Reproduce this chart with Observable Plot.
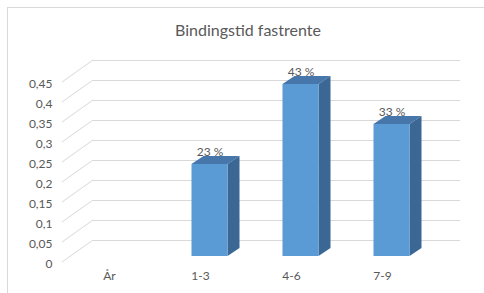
<!DOCTYPE html>
<html>
<head>
<meta charset="utf-8">
<script src="https://cdn.jsdelivr.net/npm/d3@7"></script>
<script src="https://cdn.jsdelivr.net/npm/@observablehq/plot@0.6"></script>
<style>
  body { margin: 0; background: #fff; }
  #wrap { position: relative; width: 484px; height: 293px; overflow: hidden; background: #fff; }
  #frame { position: absolute; left: 7px; top: 7px; width: 500px; height: 320px; border: 1px solid #d9d9d9; box-sizing: border-box; }
  #title { position: absolute; left: 12px; width: 472px; top: 20px; text-align: center; font-family: Lato, "Open Sans", sans-serif; font-size: 16px; color: #595959; line-height: 20px; }
  #chart { position: absolute; left: 0; top: 0; }
</style>
</head>
<body>
<div id="wrap">
  <div id="frame"></div>
  <div id="chart"></div>
  <div id="title">Bindingstid fastrente</div>
</div>
<script>
// ---- data ----
const categories = ["År", "1-3", "4-6", "7-9"];
const values = [null, 0.23, 0.43, 0.33];
const yTicks = [0, 0.05, 0.1, 0.15, 0.2, 0.25, 0.3, 0.35, 0.4, 0.45];
const yTickLabels = ["0", "0,05", "0,1", "0,15", "0,2", "0,25", "0,3", "0,35", "0,4", "0,45"];

// ---- style constants ----
const gridColor = "#d9d9d9";
const textColor = "#595959";
const frontColor = "#5b9bd5";
const topColor = "#4676aa";
const sideColor = "#3b6795";
const font = "Lato, 'Open Sans', sans-serif";
const wallDX = -31, wallDY = 22;      // left wall depth projection
const barDX = -22, barDY = 16;        // bar front plane offset from back wall
const depthDX = 12, depthDY = -8;     // bar depth
const inset = 27.5;

const rows = categories.map((c, i) => ({cat: c, value: values[i]})).filter(d => d.value != null);
const tickRows = yTicks.map((t, i) => ({t, label: yTickLabels[i]}));

function wallDiagonals(index, scales, vals, dimensions) {
  const y = scales.y;
  const x0 = dimensions.marginLeft;
  const g = d3.create("svg:g");
  for (const t of yTicks) {
    g.append("line")
      .attr("x1", x0 + wallDX).attr("y1", y(t) + wallDY)
      .attr("x2", x0).attr("y2", y(t))
      .attr("stroke", gridColor).attr("stroke-width", 1);
  }
  return g.node();
}

function barFaces(index, scales, vals, dimensions) {
  const x = scales.x, y = scales.y, bw = x.bandwidth();
  const g = d3.create("svg:g");
  for (const d of rows) {
    const xl = x(d.cat) + inset + barDX;
    const xr = x(d.cat) + bw - inset + barDX;
    const yt = y(d.value) + barDY;
    const yb = y(0) + barDY;
    g.append("path")
      .attr("d", `M${xl},${yt}L${xr},${yt}L${xr + depthDX},${yt + depthDY}L${xl + depthDX},${yt + depthDY}Z`)
      .attr("fill", topColor);
    g.append("path")
      .attr("d", `M${xr},${yt}L${xr},${yb}L${xr + depthDX},${yb + depthDY}L${xr + depthDX},${yt + depthDY}Z`)
      .attr("fill", sideColor);
  }
  return g.node();
}

const chart = Plot.plot({
  width: 484,
  height: 293,
  marginLeft: 93,
  marginRight: 24,
  marginTop: 40,
  marginBottom: 53,
  style: {background: "transparent", fontFamily: font, color: textColor},
  x: {domain: categories, padding: 0, axis: null},
  y: {domain: [0, 0.5], axis: null},
  marks: [
    Plot.ruleY(yTicks, {stroke: gridColor, strokeWidth: 1}),
    wallDiagonals,
    Plot.text(tickRows, {y: "t", text: "label", frameAnchor: "left", textAnchor: "end", dx: -41, dy: 24, fill: textColor, fontSize: 12}),
    barFaces,
    Plot.barY(rows, {x: "cat", y: "value", fill: frontColor, insetLeft: inset, insetRight: inset, dx: barDX, dy: barDY}),
    Plot.text(rows, {x: "cat", y: "value", text: d => Math.round(d.value * 100) + " %", dx: barDX, dy: 4, fill: textColor, fontSize: 12}),
    Plot.text(categories, {x: d => d, text: d => d, frameAnchor: "bottom", dx: -31.5, dy: 39, fill: textColor, fontSize: 12})
  ]
});
document.getElementById("chart").appendChild(chart);
</script>
</body>
</html>
